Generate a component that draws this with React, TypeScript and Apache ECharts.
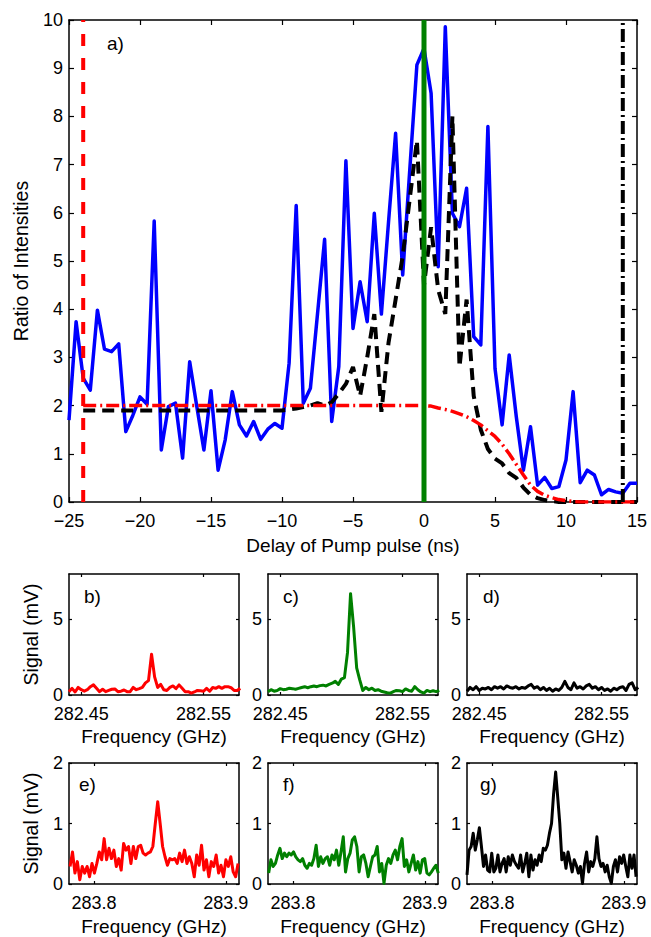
import React, { useEffect, useRef } from "react";
import * as echarts from "echarts";

// ---------- Panel a): ratio of intensities vs pump delay ----------
const delays = [-25,-24.5,-24,-23.5,-23,-22.5,-22,-21.5,-21,-20.5,-20,-19.5,-19,-18.5,-18,-17.5,-17,-16.5,-16,-15.5,-15,-14.5,-14,-13.5,-13,-12.5,-12,-11.5,-11,-10.5,-10,-9.5,-9,-8.5,-8,-7.5,-7,-6.5,-6,-5.5,-5,-4.5,-4,-3.5,-3,-2.5,-2,-1.5,-1,-0.5,0,0.5,1,1.5,2,2.5,3,3.5,4,4.5,5,5.5,6,6.5,7,7.5,8,8.5,9,9.5,10,10.5,11,11.5,12,12.5,13,13.5,14,14.5,15];

const blueRatio = [
  1.70,3.74,2.57,2.32,3.98,3.17,3.12,3.28,1.46,1.80,
  2.18,2.03,5.83,1.08,1.98,2.05,0.91,2.91,1.98,1.08,
  2.31,0.66,1.29,2.29,1.60,1.37,1.67,1.30,1.51,1.63,
  1.53,2.88,6.15,2.05,2.36,3.9,5.45,1.67,2.81,7.08,
  3.60,4.57,3.74,5.99,3.90,5.8,7.65,4.71,6.9,9.07,
  9.41,8.48,4.88,9.86,5.99,5.71,6.51,3.43,3.26,7.79,
  2.77,1.60,3.05,1.77,0.66,1.56,0.35,0.51,0.28,0.32,
  0.87,2.29,0.40,0.66,0.56,0.15,0.26,0.21,0.18,0.39,
  0.39
];

const blackRatio = [
  null,null,
  1.9,1.9,1.9,1.9,1.9,1.9,1.9,1.9,1.9,1.9,1.9,1.9,1.9,1.9,1.9,1.9,1.9,1.9,1.9,1.9,1.9,1.9,1.9,1.9,1.9,1.9,1.9,1.9,1.9,
  1.92,1.94,1.97,2.0,2.05,2.0,2.07,2.25,2.45,2.8,
  2.2,3.0,3.9,1.87,3.3,4.2,5.1,6.3,7.5,4.5,
  5.7,4.4,3.9,8.0,2.8,4.2,2.2,1.5,1.1,0.9,
  0.8,0.6,0.5,0.3,0.15,0.08,0.04,0.02,0,0,
  0,0,0,0,0,0,0,0,0,0
];

const redDelays = [-24,0,0.5,1,1.5,2,2.5,3,3.5,4,4.5,5,5.5,6,6.5,7,7.5,8,8.5,9,9.5,10,10.5,11,12,13,14,15];
const redRatio = [2.0,2.0,1.99,1.95,1.92,1.88,1.83,1.77,1.69,1.6,1.48,1.36,1.2,1.0,0.78,0.56,0.35,0.22,0.14,0.09,0.05,0.03,0.01,0,0,0,0,0];

const cutoffDelay = -24;
const pumpDelay = 0;
const endDelay = 14;
const markerSpan = [0, 10];

const delayTicks = { min: -25, max: 15, interval: 5 };
const ratioTicks = { min: 0, max: 10, interval: 1 };

// ---------- Panels b)-g): spectra ----------
const freqAxisTop = [282.44, 282.579];
const freqTicksTop = [282.45, 282.55];
const freqAxisBottom = [283.781, 283.91];
const freqTicksBottom = [283.8, 283.9];

const signalB = [.22,.44,.2,.5,.35,.25,.35,.55,.67,.45,.22,.38,.22,.3,.38,.4,.22,.25,.33,.22,.22,.5,.35,.42,.5,.8,.95,2.7,1.2,.5,.7,.35,.3,.5,.6,.42,.67,.44,.22,.22,.12,.2,.3,.28,.25,.44,.25,.5,.44,.55,.44,.55,.55,.48,.3,.3,.44];
const signalC = [.22,.35,.25,.3,.42,.35,.38,.45,.42,.38,.44,.5,.55,.48,.55,.6,.55,.62,.65,.6,.7,.78,.9,.7,1.05,1.15,2.8,6.7,4.5,1.8,1.0,.3,.5,.35,.45,.3,.35,.25,.2,.15,.12,.22,.3,.28,.22,.4,.3,.25,.55,.35,.2,.12,.3,.22,.28,.22,.3];
const signalD = [.25,.5,.35,.55,.3,.45,.4,.5,.35,.55,.45,.55,.4,.6,.5,.45,.55,.4,.5,.45,.6,.7,.45,.55,.35,.5,.3,.45,.25,.4,.3,.5,.9,.5,.35,.8,.45,.55,.4,.6,.7,.45,.55,.35,.5,.3,.4,.25,.45,.35,.5,.55,.3,.7,.8,.35,.5];
const signalE = [.29,.53,.18,.37,.07,.29,.18,.29,.12,.34,.18,.34,.53,.4,.75,.4,.59,.42,.56,.29,.42,.23,.67,.56,.62,.34,.62,.42,.62,.64,.51,.48,.51,.53,.62,1.0,1.36,1.0,.62,.45,.31,.42,.4,.42,.34,.51,.37,.56,.34,.45,.34,.12,.48,.31,.64,.23,.4,.12,.37,.29,.48,.18,.31,.12,.4,.29,.45,.2,.12,.34];
const signalF = [.18,.4,.29,.34,.48,.59,.42,.51,.45,.51,.48,.53,.45,.4,.37,.42,.31,.26,.34,.31,.42,.64,.29,.45,.34,.42,.45,.31,.48,.4,.56,.31,.53,.78,.2,.42,.51,.73,.78,.62,.2,.45,.48,.34,.12,.29,.45,.48,.62,.2,.34,.01,.31,.42,.34,.48,.56,.4,.62,.75,.29,.4,.2,.34,.48,.23,.37,.18,.4,.42,.18,.15,.2,.26,.31,.18];
const signalG = [.15,.56,.62,.84,.56,.73,.93,.62,.29,.48,.23,.2,.51,.2,.26,.48,.2,.34,.42,.2,.45,.31,.48,.37,.31,.26,.48,.2,.34,.51,.12,.48,.23,.4,.31,.48,.37,.59,.56,.64,.84,1.0,1.49,1.85,1.43,1.0,.4,.51,.26,.53,.37,.2,.4,.31,.18,.29,.01,.34,.53,.2,.37,.29,.42,.78,.42,.29,.34,.2,.31,.12,.01,.29,.4,.2,.45,.34,.48,.29,.12,.48,.26,.48,.12];

// sweep ranges (uniform sampling grid of each recorded trace)
const sweepB = [282.44, 282.58];
const sweepC = [282.44, 282.58];
const sweepD = [282.44, 282.58];
const sweepE = [283.7818, 283.9093];
const sweepF = [283.7815, 283.9102];
const sweepG = [283.781, 283.9093];

const FONT = "'Liberation Sans', Arial, Helvetica, sans-serif";
const BLUE = "#0000ff";
const RED = "#ff0000";
const GREEN = "#008000";
const BLACK = "#000000";

function sweep(range: number[], n: number) {
  const out: number[] = [];
  for (let i = 0; i < n; i++) out.push(range[0] + ((range[1] - range[0]) * i) / (n - 1));
  return out;
}

const minus = (v: number) => String(v).replace("-", "\u2212");

export default function App() {
  const ref = useRef<HTMLDivElement>(null);

  useEffect(() => {
    if (!ref.current) return;
    const chart = echarts.init(ref.current, null, { renderer: "svg" });

    const grids: any[] = [];
    const xAxes: any[] = [];
    const yAxes: any[] = [];
    const series: any[] = [];

    const lineAxis = { lineStyle: { color: BLACK, width: 1.5 } };

    function addBox(
      rect: { left: number; top: number; width: number; height: number },
      x: any,
      y: any,
      tickLen: number
    ) {
      const gi = grids.length;
      grids.push({ ...rect, containLabel: false });
      const tick = (extra: any) => ({ show: true, inside: true, length: tickLen, lineStyle: { color: BLACK, width: 1.2 }, ...extra });
      const xBase: any = { type: "value", gridIndex: gi, min: x.min, max: x.max, splitLine: { show: false }, axisLine: { ...lineAxis, onZero: false } };
      if (x.interval) xBase.interval = x.interval;
      const yBase: any = { type: "value", gridIndex: gi, min: y.min, max: y.max, splitLine: { show: false }, axisLine: { ...lineAxis, onZero: false } };
      if (y.interval) yBase.interval = y.interval;
      xAxes.push({
        ...xBase,
        position: "bottom",
        axisTick: tick(x.custom ? { customValues: x.custom } : {}),
        axisLabel: {
          color: BLACK, fontSize: 18, lineHeight: 14, fontFamily: FONT, margin: x.margin,
          formatter: x.fmt, showMinLabel: true, showMaxLabel: true,
          ...(x.custom ? { customValues: x.custom } : {}),
        },
        name: x.name || "",
        nameLocation: "middle",
        nameGap: x.nameGap || 30,
        nameTextStyle: { color: BLACK, fontSize: 19, fontFamily: FONT },
      });
      xAxes.push({
        ...xBase,
        position: "top",
        axisTick: tick(x.custom ? { customValues: x.custom } : {}),
        axisLabel: { show: false },
      });
      yAxes.push({
        ...yBase,
        position: "left",
        axisTick: tick(y.custom ? { customValues: y.custom } : {}),
        axisLabel: {
          color: BLACK, fontSize: 18, lineHeight: 14, fontFamily: FONT, margin: 6,
          formatter: y.fmt,
          ...(y.custom ? { customValues: y.custom } : {}),
        },
        name: y.name || "",
        nameLocation: "middle",
        nameGap: y.nameGap || 30,
        nameTextStyle: { color: BLACK, fontSize: 19.5, fontFamily: FONT },
      });
      yAxes.push({
        ...yBase,
        position: "right",
        axisTick: tick(y.custom ? { customValues: y.custom } : {}),
        axisLabel: { show: false },
      });
      return gi;
    }

    // ---- main panel a)
    const g0 = addBox(
      { left: 69, top: 20, width: 568, height: 482 },
      { ...delayTicks, fmt: (v: number) => minus(v), name: "Delay of Pump pulse (ns)", nameGap: 34, margin: 12 },
      { ...ratioTicks, fmt: (v: number) => String(v), name: "Ratio of Intensities", nameGap: 38 },
      5
    );
    const ax0 = { xAxisIndex: 2 * g0, yAxisIndex: 2 * g0 };
    const base = { type: "line", showSymbol: false, symbol: "none", silent: true, ...ax0 };

    series.push({
      ...base, name: "Measured ratio", z: 2,
      data: delays.map((d, i) => [d, blueRatio[i]]),
      lineStyle: { color: BLUE, width: 3.5, join: "round" },
    });
    series.push({
      ...base, name: "Simulated ratio", z: 3,
      data: delays.map((d, i) => [d, blackRatio[i]]),
      lineStyle: { color: BLACK, width: 4, type: [12, 7] },
    });
    series.push({
      ...base, name: "Envelope", z: 4,
      data: redDelays.map((d, i) => [d, redRatio[i]]),
      lineStyle: { color: RED, width: 3.5, type: [13, 4, 2, 4] },
    });
    series.push({
      ...base, name: "Cut-off", z: 5,
      data: markerSpan.map((r) => [cutoffDelay, r]),
      lineStyle: { color: RED, width: 4, type: [12, 12] },
    });
    series.push({
      ...base, name: "End", z: 5,
      data: markerSpan.map((r) => [endDelay, r]),
      lineStyle: { color: BLACK, width: 4, type: [13, 4, 2, 4] },
    });
    series.push({
      ...base, name: "Pump", z: 6,
      data: markerSpan.map((r) => [pumpDelay, r]),
      lineStyle: { color: GREEN, width: 5 },
    });

    // ---- spectra panels
    const panels = [
      { lab: "b)", sig: signalB, sw: sweepB, color: RED, rect: { left: 69, top: 574 }, row: 0, yName: true },
      { lab: "c)", sig: signalC, sw: sweepC, color: GREEN, rect: { left: 268, top: 574 }, row: 0, yName: false },
      { lab: "d)", sig: signalD, sw: sweepD, color: BLACK, rect: { left: 467, top: 574 }, row: 0, yName: false },
      { lab: "e)", sig: signalE, sw: sweepE, color: RED, rect: { left: 69, top: 763 }, row: 1, yName: true },
      { lab: "f)", sig: signalF, sw: sweepF, color: GREEN, rect: { left: 268, top: 763 }, row: 1, yName: false },
      { lab: "g)", sig: signalG, sw: sweepG, color: BLACK, rect: { left: 467, top: 763 }, row: 1, yName: false },
    ];

    panels.forEach((p) => {
      const top = p.row === 0;
      const gi = addBox(
        { ...p.rect, width: 170, height: 121 },
        {
          min: top ? freqAxisTop[0] : freqAxisBottom[0],
          max: top ? freqAxisTop[1] : freqAxisBottom[1],
          custom: top ? freqTicksTop : freqTicksBottom,
          fmt: (v: number) => (top ? v.toFixed(2) : v.toFixed(1)),
          name: "Frequency (GHz)",
          nameGap: top ? 32 : 33,
          margin: 12,
        },
        top
          ? { min: 0, max: 8, custom: [0, 5], fmt: (v: number) => String(v), name: p.yName ? "Signal (mV)" : "", nameGap: 28 }
          : { min: 0, max: 2, interval: 1, fmt: (v: number) => String(v), name: p.yName ? "Signal (mV)" : "", nameGap: 28 },
        3
      );
      const f = sweep(p.sw, p.sig.length);
      series.push({
        type: "line", showSymbol: false, symbol: "none", silent: true,
        xAxisIndex: 2 * gi, yAxisIndex: 2 * gi, name: p.lab,
        data: f.map((x, i) => [x, p.sig[i]]),
        lineStyle: { color: p.color, width: 3, join: "round" },
      });
    });

    const labelPos = [
      { t: "a)", left: 107, top: 34 },
      { t: "b)", left: 84, top: 587 },
      { t: "c)", left: 283, top: 587 },
      { t: "d)", left: 483, top: 587 },
      { t: "e)", left: 79, top: 775 },
      { t: "f)", left: 283, top: 775 },
      { t: "g)", left: 480, top: 775 },
    ];

    chart.setOption({
      animation: false,
      backgroundColor: "#ffffff",
      textStyle: { fontFamily: FONT },
      grid: grids,
      xAxis: xAxes,
      yAxis: yAxes,
      series,
      graphic: labelPos.map((l) => ({
        type: "text", left: l.left, top: l.top, z: 100,
        style: { text: l.t, fontSize: 19, fontFamily: FONT, fill: BLACK },
      })),
    });

    return () => chart.dispose();
  }, []);

  return (
    <div
      ref={ref}
      style={{ position: "absolute", left: 0, top: 0, width: 651, height: 937, background: "#fff" }}
    />
  );
}
